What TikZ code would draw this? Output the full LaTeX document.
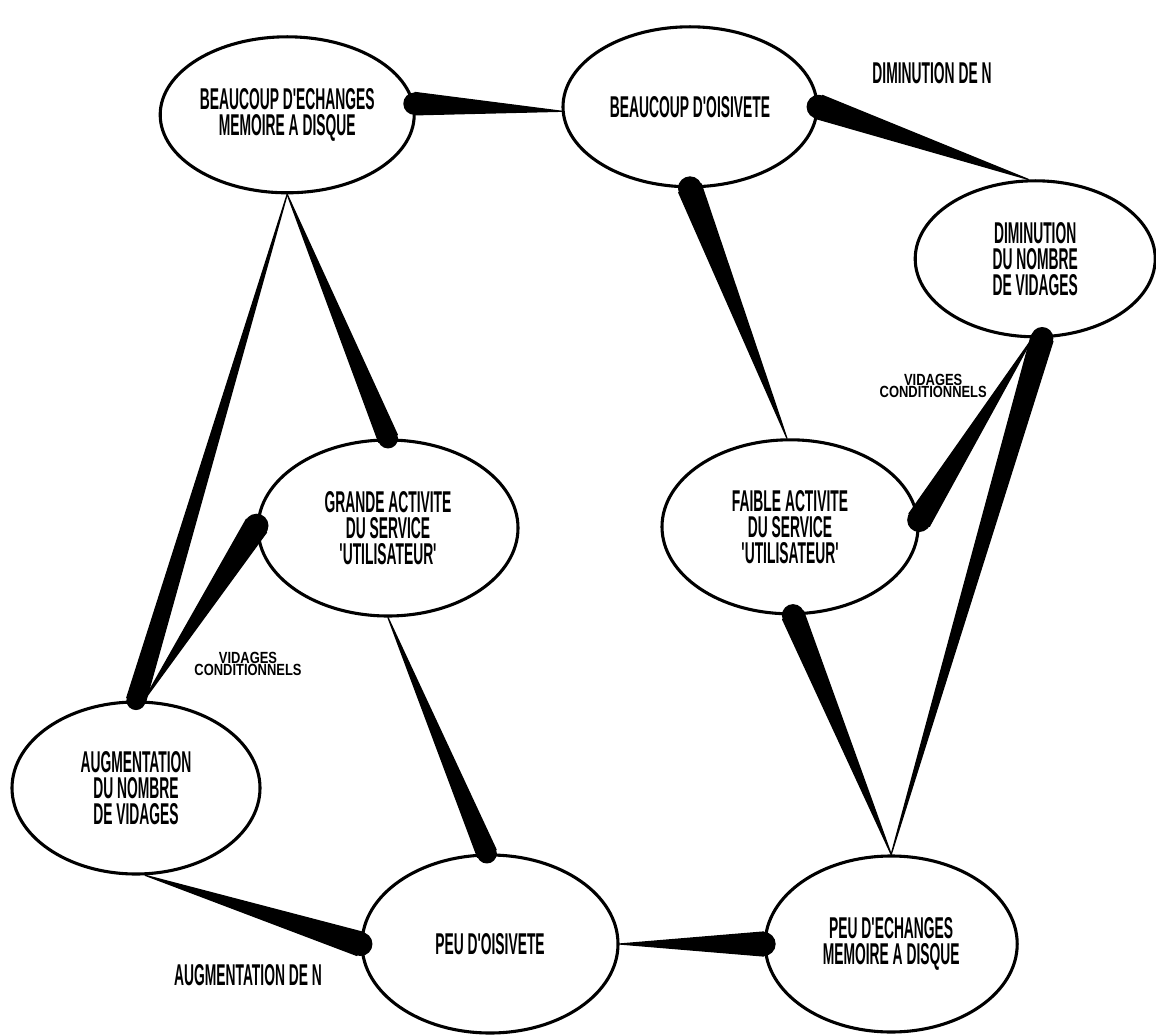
\documentclass[tikz,border=0pt]{standalone}
\usepackage{fontspec}
\usepackage{tikz}
\usetikzlibrary{shapes.geometric,calc}

\newfontfamily\plotfont[FakeStretch=0.46]{Liberation Sans}
\newfontfamily\petitfont[FakeStretch=0.8]{Liberation Sans}

% lien en coin : fin a la source, gros bout arrondi a la cible
\newcommand{\lien}[3][0.3cm]{%
  \path (#2) coordinate (p0) (#3) coordinate (p1);
  \filldraw[line width=0.9pt] ($(p1)!#1!90:(p0)$) -- (p0)
    -- ($(p1)!#1!-90:(p0)$) -- cycle;
  \fill (p1) circle (#1);
}

\begin{document}
\begin{tikzpicture}[
    line cap=round,
    line join=round,
    etat/.style={ellipse, draw, line width=2.2pt, inner sep=0pt,
      minimum width=6.4cm, minimum height=4.4cm, align=center,
      font=\plotfont\bfseries\fontsize{21.4}{18.5}\selectfont},
    note/.style={align=center,
      font=\plotfont\bfseries\fontsize{21.4}{18.5}\selectfont},
    petit/.style={align=center,
      font=\petitfont\bfseries\fontsize{11.5}{9}\selectfont}
]

\useasboundingbox (0,0) rectangle (28.9,25.85);

% Etats
\node[etat, minimum width=6.35cm, minimum height=3.9cm] (e1) at (7.18,22.98)
    {BEAUCOUP D'ECHANGES\\MEMOIRE A DISQUE};
\node[etat, minimum width=6.35cm, minimum height=4cm] (e2) at (17.25,23.18)
    {BEAUCOUP D'OISIVETE};
\node[etat, minimum width=6cm, minimum height=3.9cm] (e3) at (25.88,19.38)
    {DIMINUTION\\DU NOMBRE\\DE VIDAGES};
\node[etat, minimum width=6.5cm] (e4) at (9.7,12.65)
    {GRANDE ACTIVITE\\DU SERVICE\\'UTILISATEUR'};
\node[etat, minimum height=4.35cm] (e5) at (19.75,12.68)
    {FAIBLE ACTIVITE\\DU SERVICE\\'UTILISATEUR'};
\node[etat, minimum width=6.2cm, minimum height=4.3cm] (e6) at (3.4,6.15)
    {AUGMENTATION\\DU NOMBRE\\DE VIDAGES};
\node[etat, minimum height=4.45cm] (e7) at (12.25,2.25)
    {PEU D'OISIVETE};
\node[etat, minimum width=6.3cm] (e8) at (22.28,2.25)
    {PEU D'ECHANGES\\MEMOIRE A DISQUE};

% Etiquettes
\node[note] (dimN) at (23.3,24.03) {DIMINUTION DE N};
\node[note] (augN) at (6.2,1.48) {AUGMENTATION DE N};
\node[petit] (vidD) at (23.33,16.2) {VIDAGES\\CONDITIONNELS};
\node[petit] (vidG) at (6.2,9.25) {VIDAGES\\CONDITIONNELS};

% Liens
\lien[0.28cm]{e2.182}{e1.5}
\lien[0.3cm]{e3.95}{e2.0}
\lien[0.25cm]{e1.270}{e4.90}
\lien[0.24cm]{e1.270}{e6.90}
\lien[0.3cm]{e6.85}{e4.179}
\lien[0.25cm]{e4.270}{e7.92}
\lien[0.3cm]{e6.-84}{e7.180}
\lien[0.3cm]{e7.0}{e8.180}
\lien[0.28cm]{e8.90}{e5.-88}
\lien[0.28cm]{e8.90}{e3.-85}
\lien[0.3cm]{e3.-92}{e5.3}
\lien[0.3cm]{e5.92}{e2.270}

\end{tikzpicture}
\end{document}
